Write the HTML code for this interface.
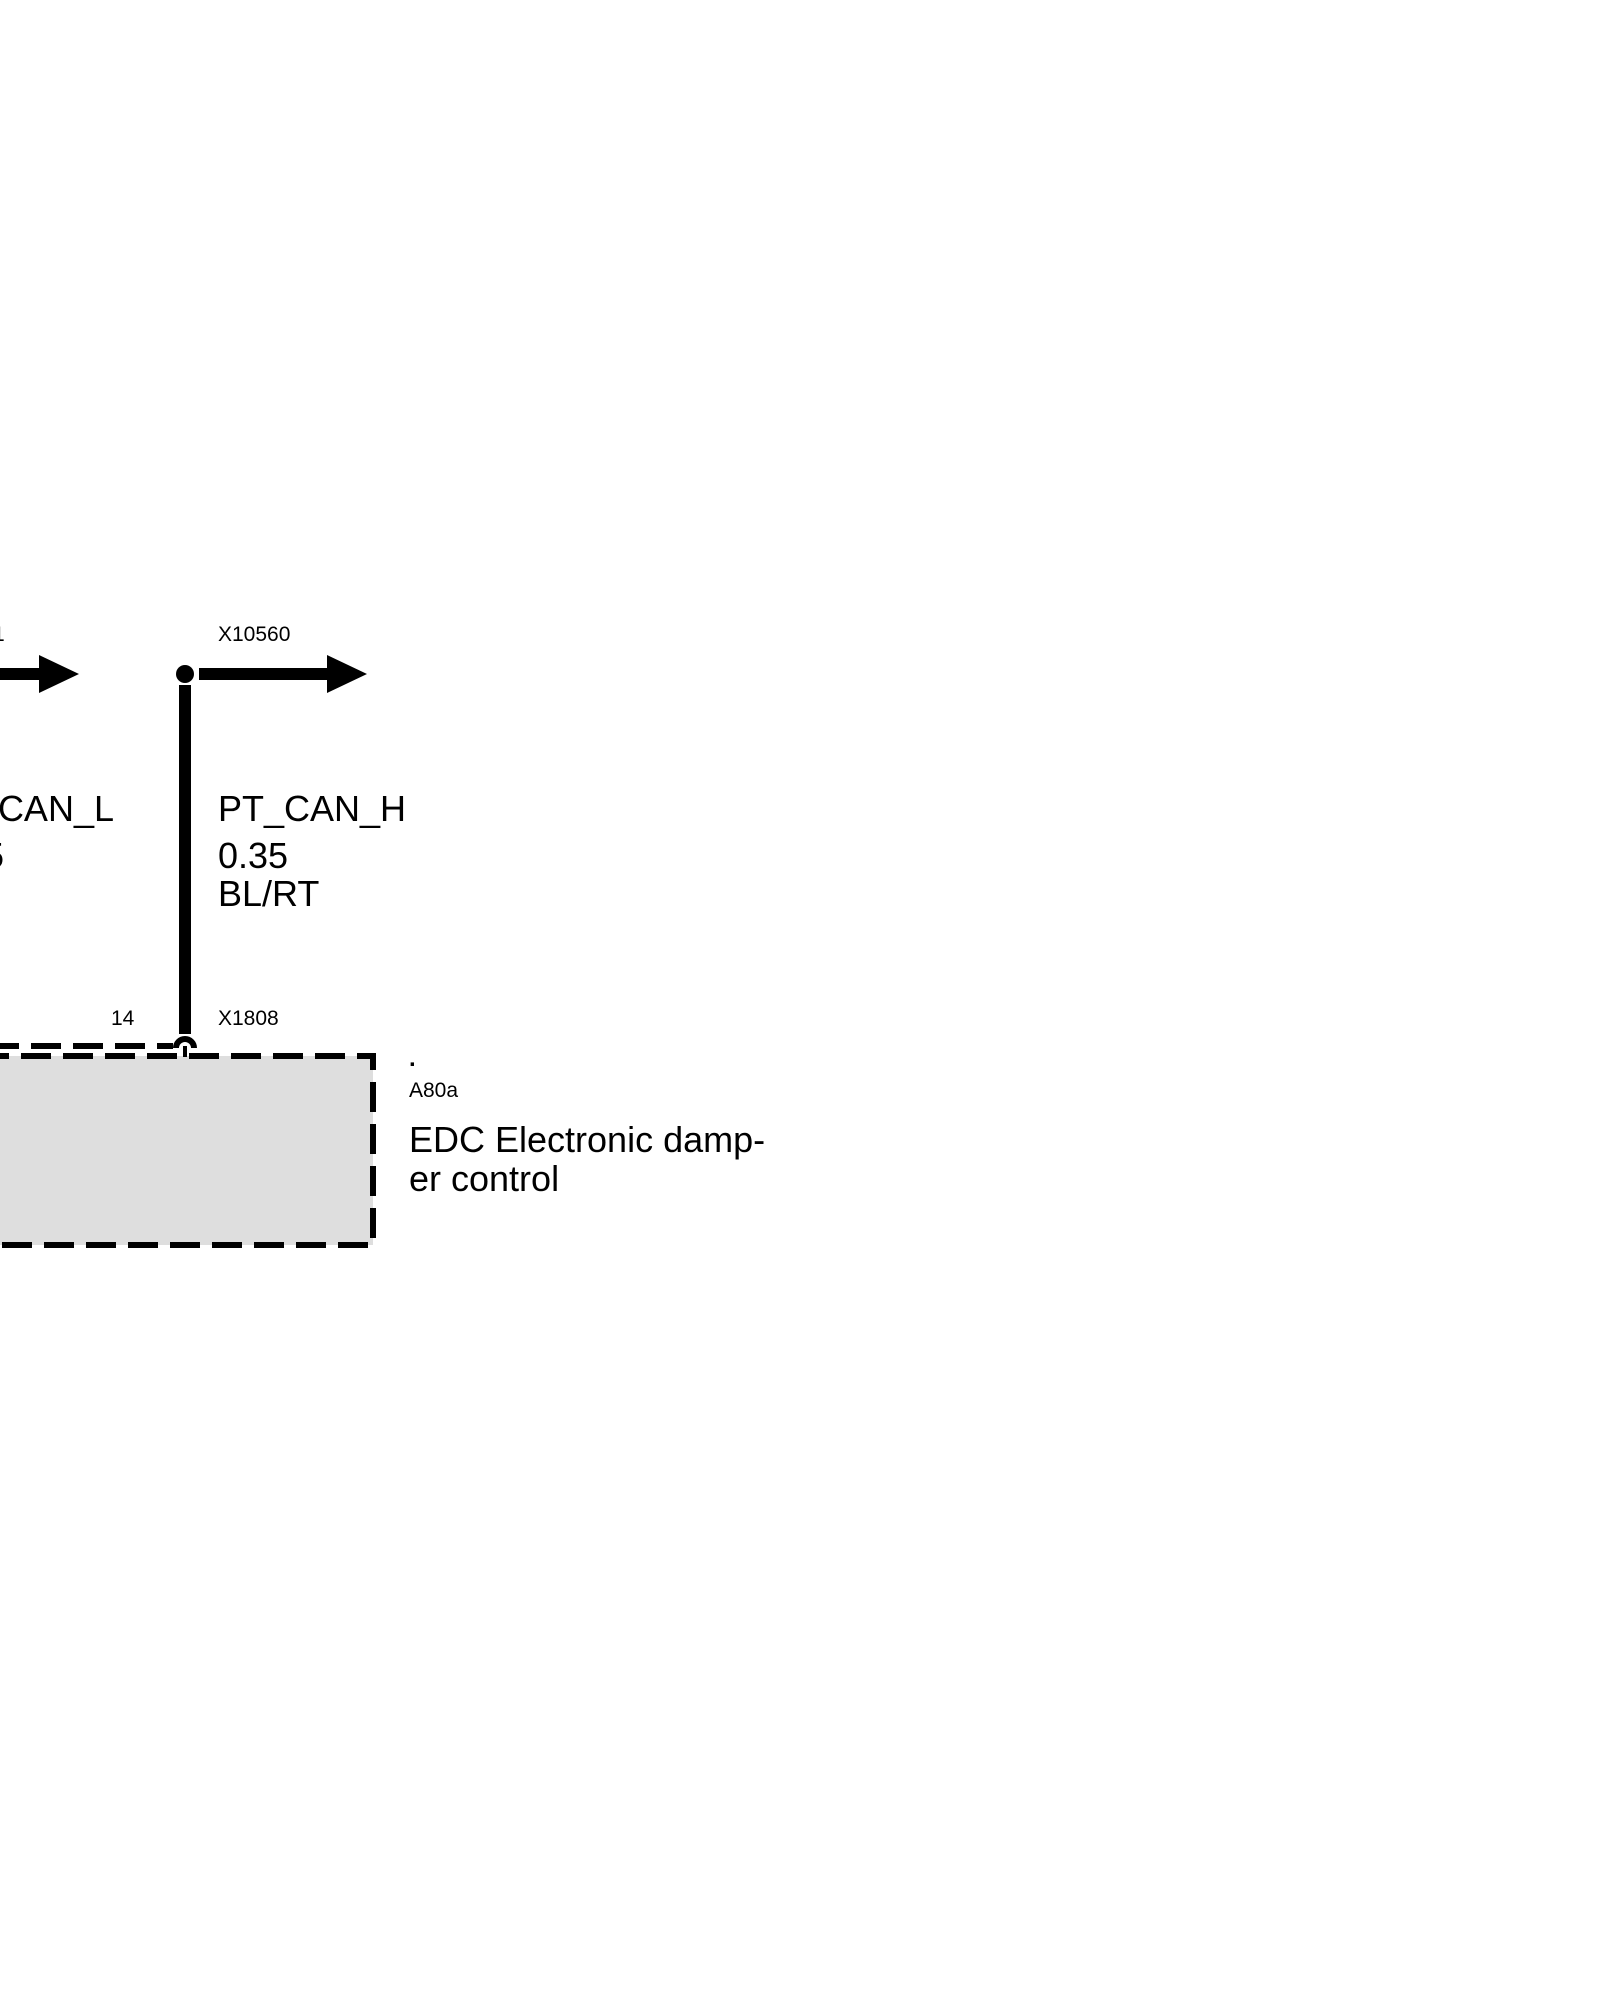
<!DOCTYPE html>
<html><head><meta charset="utf-8"><style>
html,body{margin:0;padding:0;background:#fff;}
body{width:1600px;height:2000px;position:relative;overflow:hidden;font-family:"Liberation Sans",Arial,sans-serif;}
svg{position:absolute;left:0;top:0;}
</style></head><body>
<svg width="1600" height="2000" viewBox="0 0 1600 2000" xmlns="http://www.w3.org/2000/svg" font-family="Liberation Sans, Arial, sans-serif">
<g transform="translate(-1,-9)">
  <rect x="-20" y="1065" width="394" height="189" fill="#dedede" stroke="#000" stroke-width="6" stroke-dasharray="30,12"/>
  <line x1="-10" y1="1055" x2="174" y2="1055" stroke="#000" stroke-width="6" stroke-dasharray="30,12"/>
  <line x1="186" y1="694" x2="186" y2="1043" stroke="#000" stroke-width="12"/>
  <path d="M177 1057 A9 9 0 0 1 195 1057" fill="none" stroke="#000" stroke-width="6"/>
  <line x1="186" y1="1055" x2="186" y2="1066" stroke="#000" stroke-width="4"/>
  <circle cx="186" cy="683" r="9" fill="#000"/>
  <line x1="200" y1="683" x2="335" y2="683" stroke="#000" stroke-width="12"/>
  <polygon points="328,664 368,683 328,702" fill="#000"/>
  <line x1="-10" y1="683" x2="45" y2="683" stroke="#000" stroke-width="12"/>
  <polygon points="40,664 80,683 40,702" fill="#000"/>
  <text x="219" y="650" font-size="21">X10560</text>
  <text x="-6" y="650" font-size="21">1</text>
  <text x="219" y="830" font-size="36">PT_CAN_H</text>
  <text x="219" y="877" font-size="36">0.35</text>
  <text x="219" y="915" font-size="36">BL/RT</text>
  <text x="115" y="830" font-size="36" text-anchor="end">CAN_L</text>
  <text x="-15" y="877" font-size="36">5</text>
  <text x="112" y="1034" font-size="21">14</text>
  <text x="219" y="1034" font-size="21">X1808</text>
  <text x="410" y="1075" font-size="24" font-weight="bold">.</text>
  <text x="410" y="1106" font-size="21">A80a</text>
  <text x="410" y="1161" font-size="36">EDC Electronic damp-</text>
  <text x="410" y="1200" font-size="36">er control</text>
</g>
</svg>
</body></html>
